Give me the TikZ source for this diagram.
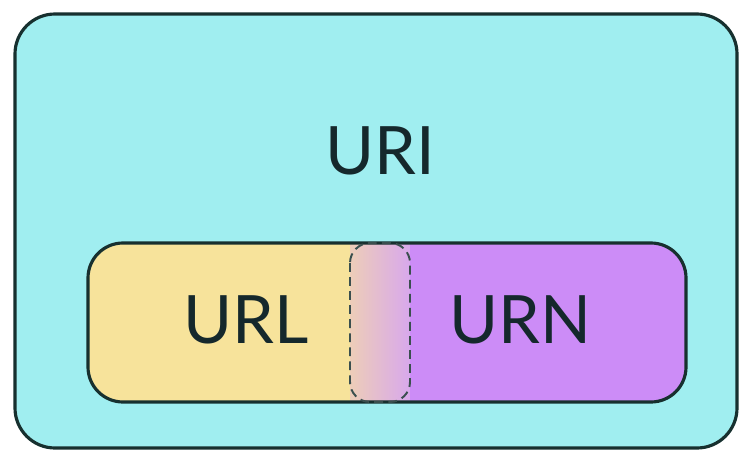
\documentclass[tikz,border=0pt]{standalone}
\usepackage{fontspec}
\setmainfont{Lato}
\usetikzlibrary{backgrounds}

\definecolor{uricyan}{HTML}{A0EEF0}
\definecolor{urlyellow}{HTML}{F7E39B}
\definecolor{urnpurple}{HTML}{CC8CF7}
\definecolor{midleft}{HTML}{EDCDB8}
\definecolor{midright}{HTML}{D8A8EC}
\definecolor{edgedark}{HTML}{17302F}
\definecolor{textdark}{HTML}{15282C}

\tikzset{
	setname/.style={anchor=base, text=textdark, font=\fontsize{38}{42}\selectfont, inner sep=0pt},
	setedge/.style={draw=edgedark, line width=1.8pt}
}

\begin{document}
\begin{tikzpicture}[x=0.02cm,y=-0.02cm]
	%Page frame
	\useasboundingbox (0,0) rectangle (739,449);
	\fill [white] (0,0) rectangle (739,449);

	%Outer box for URI
	\draw [setedge, fill=uricyan, rounded corners=0.8cm] (15,14) rectangle (737,448);

	%Inner pill, split in URL, overlap and URN
	\begin{scope}
		\clip [rounded corners=0.7cm] (88,243) rectangle (686,402);
		\fill [urlyellow] (88,243) rectangle (350,402);
		\shade [left color=midleft, right color=midright] (350,243) rectangle (410,402);
		\fill [urnpurple] (410,243) rectangle (686,402);
	\end{scope}
	\draw [setedge, rounded corners=0.7cm] (88,243) rectangle (686,402);

	%Overlap of URL and URN
	\draw [draw=edgedark!85, line width=1.1pt, dash pattern=on 5pt off 3pt, rounded corners=0.4cm] (350,243) rectangle (410,402);

	%Names
	\node [setname] (uri) at (380,174) {URI};
	\node [setname] (url) at (246,343) {URL};
	\node [setname] (urn) at (520,343) {URN};
\end{tikzpicture}
\end{document}
